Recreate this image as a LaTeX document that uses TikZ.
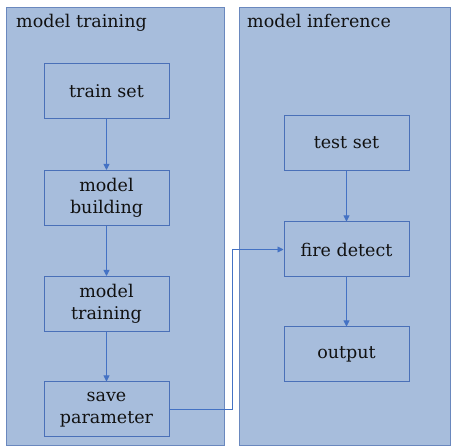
\documentclass[tikz,border=0pt]{standalone}
\usepackage{fontspec}
\setmainfont{DejaVu Serif}
\usetikzlibrary{arrows.meta}
\definecolor{panelfill}{HTML}{A7BDDC}
\definecolor{panelline}{HTML}{6A88BE}
\definecolor{boxline}{HTML}{4A70B8}
\definecolor{flowline}{HTML}{4472C4}
\definecolor{ink}{HTML}{111111}
\tikzset{
  panel/.style={draw=panelline, line width=0.9pt, fill=panelfill},
  stepbox/.style={draw=boxline, line width=1pt, fill=panelfill, minimum width=125pt,
    minimum height=55pt, inner sep=0pt, align=center, text=ink,
    font=\fontsize{17.5}{22}\selectfont},
  paneltitle/.style={anchor=base west, inner sep=0pt, text=ink,
    font=\fontsize{17.5}{22}\selectfont},
  flow/.style={draw=flowline, line width=0.9pt, -{Triangle[length=6pt,width=6pt]}}
}
\begin{document}
\begin{tikzpicture}[x=1pt, y=-1pt]
  \useasboundingbox (0,0) rectangle (451,446);
  \fill[white] (0,0) rectangle (451,446);

  % the two stages
  \draw[panel] (6,7) rectangle (224,445);
  \draw[panel] (239,7) rectangle (450,445);
  \node[paneltitle] (ttrain) at (16,28) {model training};
  \node[paneltitle] (tinfer) at (247,28) {model inference};

  % training pipeline
  \node[stepbox] (trainset) at (106.5,91.5)  {train set};
  \node[stepbox] (build)    at (106.5,198)   {model\\building};
  \node[stepbox] (train)    at (106.5,304)   {model\\training};
  \node[stepbox] (save)     at (106.5,409.5) {save\\parameter};

  % inference pipeline
  \node[stepbox] (testset)  at (346.5,143)   {test set};
  \node[stepbox] (detect)   at (346.5,249.5) {fire detect};
  \node[stepbox] (output)   at (346.5,354.5) {output};

  \draw[flow] (trainset) -- (build);
  \draw[flow] (build) -- (train);
  \draw[flow] (train) -- (save);
  \draw[flow] (testset) -- (detect);
  \draw[flow] (detect) -- (output);

  % trained parameters feed the detector
  \coordinate (bend) at (232,0);
  \draw[flow] (save.east) -| (bend |- save.east) |- (detect.west);
\end{tikzpicture}
\end{document}
